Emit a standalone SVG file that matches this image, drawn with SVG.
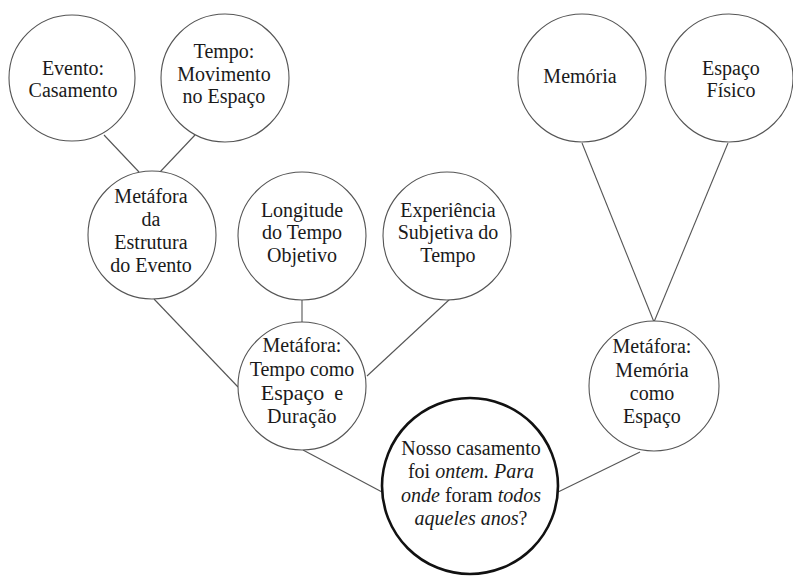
<svg xmlns="http://www.w3.org/2000/svg" width="793" height="576" viewBox="0 0 793 576">
<style>
.n{fill:#fff;stroke:#555;stroke-width:1.1}
.main{fill:#fff;stroke:#111;stroke-width:2.6}
.c line{stroke:#555;stroke-width:1.1}
text{font-size:20px;fill:#1a1a1a;text-anchor:middle}
.big{font-size:22px}
</style>
<rect width="793" height="576" fill="#fff"/>
<g class="c" id="connectors">
<line x1="104" y1="135" x2="139" y2="172"/>
<line x1="195" y1="135" x2="160" y2="172"/>
<line x1="154" y1="299" x2="238" y2="387"/>
<line x1="302" y1="300" x2="302" y2="322"/>
<line x1="450" y1="299" x2="367" y2="376"/>
<line x1="303" y1="450" x2="382" y2="492"/>
<line x1="582" y1="143" x2="654" y2="322"/>
<line x1="728" y1="143" x2="654" y2="322"/>
<line x1="640" y1="452" x2="556" y2="493"/>
</g>
<g font-family="Liberation Serif, Times New Roman, DejaVu Serif, serif">
<g id="evento">
<circle class="n" cx="72" cy="78" r="63"/>
<text x="73" y="75">Evento:</text>
<text x="73" y="97">Casamento</text>
</g>
<g id="tempo">
<circle class="n" cx="225" cy="78" r="64"/>
<text x="224" y="58">Tempo:</text>
<text x="224" y="81">Movimento</text>
<text x="224" y="103">no Espaço</text>
</g>
<g id="estrutura">
<circle class="n" cx="152" cy="235" r="64"/>
<text x="151" y="203">Metáfora</text>
<text x="151" y="226">da</text>
<text x="151" y="249">Estrutura</text>
<text x="151" y="272">do Evento</text>
</g>
<g id="longitude">
<circle class="n" cx="302" cy="236" r="64"/>
<text x="302" y="217">Longitude</text>
<text x="302" y="239">do Tempo</text>
<text x="302" y="262">Objetivo</text>
</g>
<g id="experiencia">
<circle class="n" cx="447" cy="236" r="64"/>
<text x="448" y="217">Experiência</text>
<text x="448" y="239">Subjetiva do</text>
<text x="448" y="262">Tempo</text>
</g>
<g id="metafora-tempo">
<circle class="n" cx="302" cy="386" r="64"/>
<text x="302" y="352">Metáfora:</text>
<text x="302" y="376">Tempo como</text>
<text x="302" y="400"><tspan class="big">Espaço</tspan><tspan xml:space="preserve">  e</tspan></text>
<text x="302" y="423" letter-spacing="0.3">Duração</text>
</g>
<g id="memoria">
<circle class="n" cx="582" cy="78" r="64"/>
<text x="580" y="83">Memória</text>
</g>
<g id="espaco-fisico">
<circle class="n" cx="729" cy="78" r="64"/>
<text x="731" y="75">Espaço</text>
<text x="731" y="97">Físico</text>
</g>
<g id="metafora-memoria">
<circle class="n" cx="654" cy="386" r="65"/>
<text x="652" y="353">Metáfora:</text>
<text x="652" y="377">Memória</text>
<text x="652" y="400">como</text>
<text x="652" y="423">Espaço</text>
</g>
<g id="nosso-casamento">
<circle class="main" cx="470" cy="486" r="88"/>
<text x="471" y="455">Nosso casamento</text>
<text x="471" y="478">foi <tspan font-style="italic">ontem. Para</tspan></text>
<text x="471" y="502"><tspan font-style="italic">onde</tspan> foram <tspan font-style="italic">todos</tspan></text>
<text x="471" y="525"><tspan font-style="italic">aqueles anos</tspan>?</text>
</g>
</g>
</svg>
